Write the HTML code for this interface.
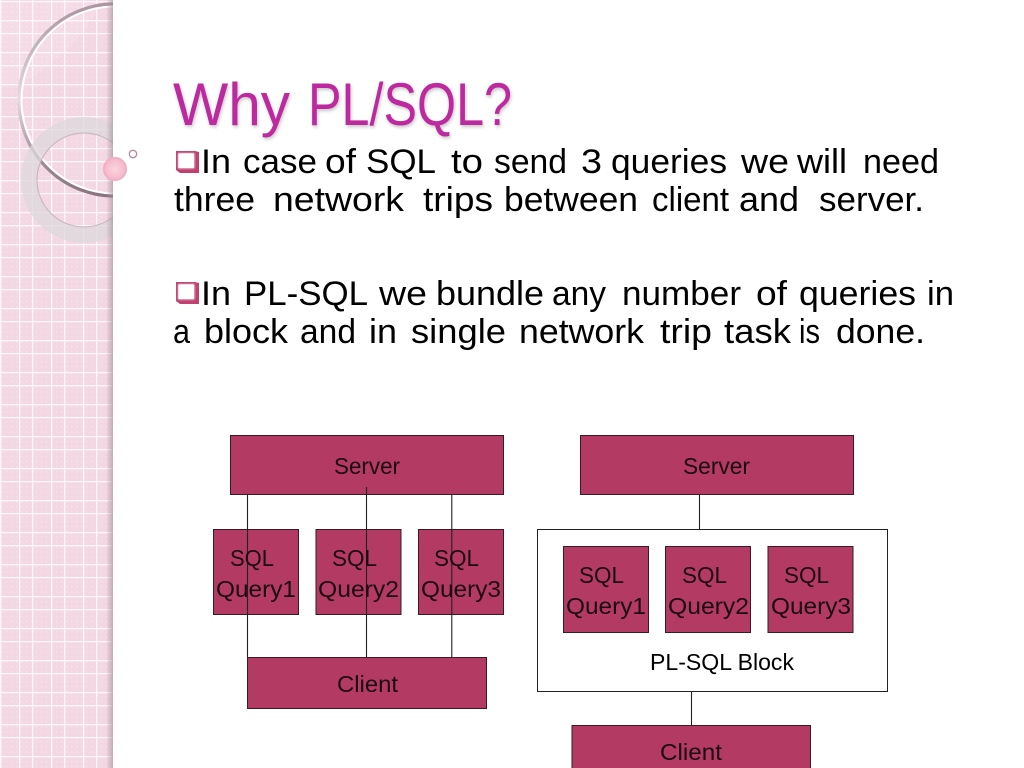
<!DOCTYPE html>
<html><head><meta charset="utf-8"><style>html,body{margin:0;padding:0;background:#fff;width:1024px;height:768px;overflow:hidden}svg{display:block}text{font-family:"Liberation Sans",sans-serif}</style></head><body>
<svg width="1024" height="768" viewBox="0 0 1024 768" xmlns="http://www.w3.org/2000/svg">
<defs>
<pattern id="dots" width="5" height="5" patternUnits="userSpaceOnUse"><rect x="1" y="1" width="1.5" height="1.5" fill="#fff" opacity=".28"/></pattern>
<pattern id="grid" width="32" height="32" patternUnits="userSpaceOnUse" x="0" y="12">
<rect x="0" y="0" width="1.3" height="32" fill="#fdf6f9"/>
<rect x="19" y="0" width="1.3" height="32" fill="#fdf6f9"/>
<rect x="0" y="8" width="32" height="1.3" fill="#fdf6f9"/>
<rect x="0" y="21" width="32" height="1.3" fill="#fdf6f9"/>
</pattern>
<linearGradient id="edge" x1="0" x2="1" y1="0" y2="0"><stop offset="0" stop-color="#a08a96" stop-opacity="0"/><stop offset="1" stop-color="#a08a96" stop-opacity=".6"/></linearGradient>
<linearGradient id="arc" gradientUnits="userSpaceOnUse" x1="0" y1="0" x2="0" y2="200"><stop offset="0" stop-color="#a8929e"/><stop offset=".5" stop-color="#e6dbe0"/><stop offset=".78" stop-color="#a58f9b"/><stop offset="1" stop-color="#85727c"/></linearGradient>
<radialGradient id="ball" cx=".5" cy=".5" r=".5"><stop offset="0" stop-color="#f9d5df"/><stop offset=".75" stop-color="#f7bccd"/><stop offset="1" stop-color="#f0a8bf"/></radialGradient>
<clipPath id="panel"><rect width="113" height="768"/></clipPath>
<filter id="ts" x="-5%" y="-5%" width="110%" height="125%"><feDropShadow dx="1" dy="2" stdDeviation="1.5" flood-color="#000" flood-opacity=".22"/></filter>
</defs>
<rect width="113" height="768" fill="#f3d7e3"/>
<rect width="113" height="768" fill="url(#dots)"/>
<rect width="113" height="768" fill="url(#grid)"/>
<g clip-path="url(#panel)">
<path d="M0 89 C40 80 75 50 100 5 L113 5 L113 0 L0 0Z" fill="#fff" opacity=".12"/>
<circle cx="115" cy="100" r="96" fill="none" stroke="url(#arc)" stroke-width="3.5"/>
<circle cx="115" cy="100" r="93.500" fill="none" stroke="#fff" stroke-width="2"/>
<circle cx="84" cy="180" r="55" fill="none" stroke="#dcd8dc" stroke-width="16" opacity=".78"/>
<circle cx="84" cy="180" r="47" fill="none" stroke="#c4b4bc" stroke-width="1"/>
</g>
<rect x="106" width="7" height="768" fill="url(#edge)"/>
<circle cx="115" cy="169" r="12" fill="url(#ball)"/>
<circle cx="133" cy="154" r="3.7" fill="#fff" stroke="#b98aa3" stroke-width="1.3"/>

<g font-size="60" fill="#bd2b9f" filter="url(#ts)">
<text x="173" y="125" textLength="117" lengthAdjust="spacingAndGlyphs">Why</text>
<text x="308" y="125" textLength="204" lengthAdjust="spacingAndGlyphs">PL/SQL?</text>
</g>

<path d="M176 170 L180 173 L199 173 L199 152 L195 151 L176 151Z" fill="#c0406e"/><rect x="177.500" y="152.500" width="17.500" height="16.500" rx="2" fill="#fff" stroke="#c86a92" stroke-width="1.500"/>
<path d="M176 301 L180 304 L199 304 L199 283 L195 282 L176 282Z" fill="#c0406e"/><rect x="177.500" y="283.500" width="17.500" height="16.500" rx="2" fill="#fff" stroke="#c86a92" stroke-width="1.500"/>

<g font-size="34" fill="#000">
<text x="201" y="173" textLength="30" lengthAdjust="spacingAndGlyphs">In</text>
<text x="243" y="173" textLength="74" lengthAdjust="spacingAndGlyphs">case</text>
<text x="325" y="173" textLength="31" lengthAdjust="spacingAndGlyphs">of</text>
<text x="366" y="173" textLength="70" lengthAdjust="spacingAndGlyphs">SQL</text>
<text x="451" y="173" textLength="32" lengthAdjust="spacingAndGlyphs">to</text>
<text x="494" y="173" textLength="73" lengthAdjust="spacingAndGlyphs">send</text>
<text x="581" y="173" textLength="21" lengthAdjust="spacingAndGlyphs">3</text>
<text x="611" y="173" textLength="116" lengthAdjust="spacingAndGlyphs">queries</text>
<text x="741" y="173" textLength="48" lengthAdjust="spacingAndGlyphs">we</text>
<text x="797" y="173" textLength="50" lengthAdjust="spacingAndGlyphs">will</text>
<text x="863" y="173" textLength="76" lengthAdjust="spacingAndGlyphs">need</text>

<text x="174" y="211" textLength="81" lengthAdjust="spacingAndGlyphs">three</text>
<text x="273" y="211" textLength="131" lengthAdjust="spacingAndGlyphs">network</text>
<text x="423" y="211" textLength="70" lengthAdjust="spacingAndGlyphs">trips</text>
<text x="504" y="211" textLength="134" lengthAdjust="spacingAndGlyphs">between</text>
<text x="652" y="211" textLength="77" lengthAdjust="spacingAndGlyphs">client</text>
<text x="739" y="211" textLength="60" lengthAdjust="spacingAndGlyphs">and</text>
<text x="819" y="211" textLength="105" lengthAdjust="spacingAndGlyphs">server.</text>

<text x="201" y="305" textLength="30" lengthAdjust="spacingAndGlyphs">In</text>
<text x="244" y="305" textLength="124" lengthAdjust="spacingAndGlyphs">PL-SQL</text>
<text x="379" y="305" textLength="48" lengthAdjust="spacingAndGlyphs">we</text>
<text x="436" y="305" textLength="108" lengthAdjust="spacingAndGlyphs">bundle</text>
<text x="552" y="305" textLength="54" lengthAdjust="spacingAndGlyphs">any</text>
<text x="622" y="305" textLength="119" lengthAdjust="spacingAndGlyphs">number</text>
<text x="756" y="305" textLength="31" lengthAdjust="spacingAndGlyphs">of</text>
<text x="799" y="305" textLength="117" lengthAdjust="spacingAndGlyphs">queries</text>
<text x="927" y="305" textLength="27" lengthAdjust="spacingAndGlyphs">in</text>

<text x="173" y="343" textLength="17" lengthAdjust="spacingAndGlyphs">a</text>
<text x="204" y="343" textLength="84" lengthAdjust="spacingAndGlyphs">block</text>
<text x="300" y="343" textLength="56" lengthAdjust="spacingAndGlyphs">and</text>
<text x="369" y="343" textLength="28" lengthAdjust="spacingAndGlyphs">in</text>
<text x="411" y="343" textLength="95" lengthAdjust="spacingAndGlyphs">single</text>
<text x="519" y="343" textLength="125" lengthAdjust="spacingAndGlyphs">network</text>
<text x="660" y="343" textLength="52" lengthAdjust="spacingAndGlyphs">trip</text>
<text x="724" y="343" textLength="67" lengthAdjust="spacingAndGlyphs">task</text>
<text x="799" y="343" textLength="21" lengthAdjust="spacingAndGlyphs">is</text>
<text x="836" y="343" textLength="89" lengthAdjust="spacingAndGlyphs">done.</text>
</g>

<g fill="#b33a63" stroke="#3a1a28" stroke-width="1">
<rect x="230.500" y="435.500" width="273" height="59"/>
<rect x="213.500" y="529.500" width="85" height="85"/>
<rect x="316" y="529.500" width="85" height="85"/>
<rect x="418.500" y="529.500" width="85" height="85"/>
<rect x="247.500" y="657.500" width="239" height="51"/>
<rect x="580.500" y="435.500" width="273" height="59"/>
<rect x="537.500" y="529.500" width="350" height="162" fill="#fff" stroke="#222"/>
<rect x="563.500" y="546.500" width="85" height="86"/>
<rect x="665.500" y="546.500" width="85" height="86"/>
<rect x="768" y="546.500" width="85" height="86"/>
<rect x="572" y="725.500" width="238.500" height="60"/>
</g>
<g stroke="#222" stroke-width="1.100" fill="none">
<path d="M247.500 494.500V657M366.500 487V657M451.800 494.500V657M699.500 494.500V529.500M691.500 691.500V725.500"/>
</g>
<g font-size="23.500" fill="#1c0a12">
<text x="334" y="474" textLength="66" lengthAdjust="spacingAndGlyphs">Server</text>
<text x="683" y="474" textLength="67" lengthAdjust="spacingAndGlyphs">Server</text>
<text x="230" y="566" textLength="44" lengthAdjust="spacingAndGlyphs">SQL</text>
<text x="332" y="566" textLength="45" lengthAdjust="spacingAndGlyphs">SQL</text>
<text x="434" y="566" textLength="45" lengthAdjust="spacingAndGlyphs">SQL</text>
<text x="216" y="597" textLength="80" lengthAdjust="spacingAndGlyphs">Query1</text>
<text x="318" y="597" textLength="81" lengthAdjust="spacingAndGlyphs">Query2</text>
<text x="421" y="597" textLength="80" lengthAdjust="spacingAndGlyphs">Query3</text>
<text x="579" y="583" textLength="45" lengthAdjust="spacingAndGlyphs">SQL</text>
<text x="682" y="583" textLength="45" lengthAdjust="spacingAndGlyphs">SQL</text>
<text x="784" y="583" textLength="45" lengthAdjust="spacingAndGlyphs">SQL</text>
<text x="566" y="614" textLength="80" lengthAdjust="spacingAndGlyphs">Query1</text>
<text x="668" y="614" textLength="81" lengthAdjust="spacingAndGlyphs">Query2</text>
<text x="771" y="614" textLength="80" lengthAdjust="spacingAndGlyphs">Query3</text>
<text x="337" y="692" textLength="61" lengthAdjust="spacingAndGlyphs">Client</text>
<text x="660" y="760" textLength="62" lengthAdjust="spacingAndGlyphs">Client</text>
<text x="650" y="670" textLength="144" lengthAdjust="spacingAndGlyphs" fill="#000">PL-SQL Block</text>
</g>
</svg>
</body></html>
